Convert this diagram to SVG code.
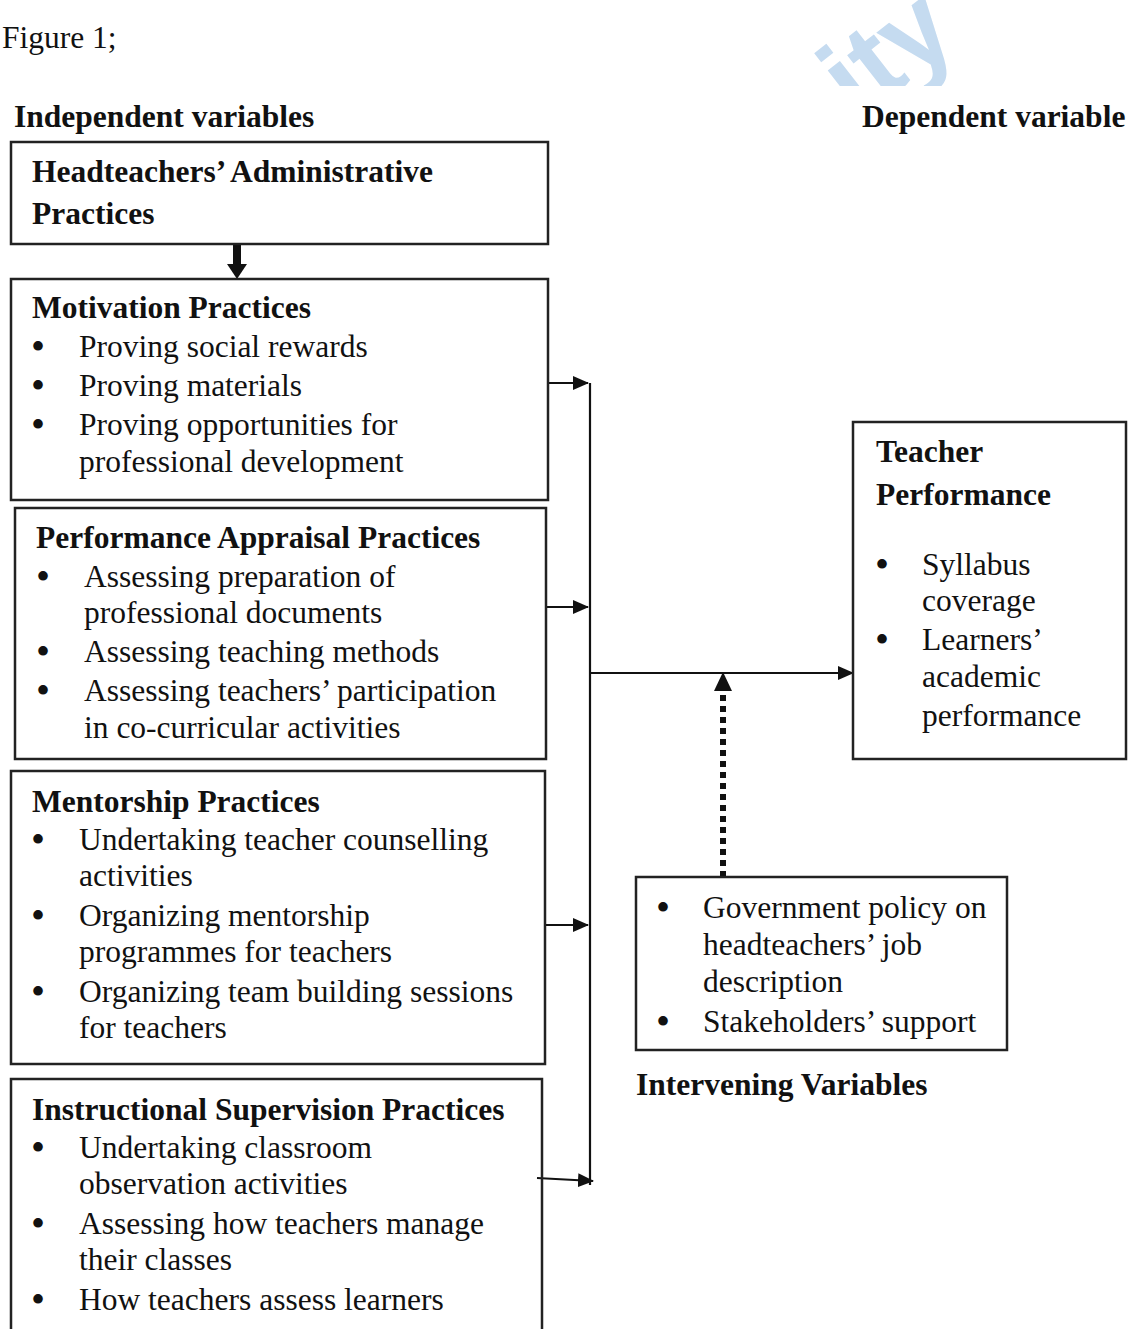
<svg xmlns="http://www.w3.org/2000/svg" width="1133" height="1329" viewBox="0 0 1133 1329">
<style>
  text { font-family: "Liberation Serif", "Times New Roman", serif; font-size: 31.5px; fill: #111; }
  .b { font-weight: bold; }
  .bul { font-size: 40px; }
  .box { fill: none; stroke: #222; stroke-width: 2.5; }
  .ln { fill: none; stroke: #111; stroke-width: 2.2; }
  .wm { font-family: "Liberation Sans", Arial, sans-serif; font-weight: bold; font-size: 112px; fill: #c5dbf0; }
</style>
<defs>
  <marker id="ah" markerUnits="userSpaceOnUse" markerWidth="16" markerHeight="14" refX="15" refY="7" orient="auto">
    <path d="M0,0 L16,7 L0,14 Z" fill="#111"/>
  </marker>
  <clipPath id="wmclip"><rect x="800" y="0" width="240" height="86"/></clipPath>
</defs>
<rect width="1133" height="1329" fill="#fff"/>

<g clip-path="url(#wmclip)">
  <text class="wm" transform="translate(858,122) rotate(-38)">ity</text>
</g>

<text x="2" y="48">Figure 1;</text>
<text class="b" x="14" y="127">Independent variables</text>
<text class="b" x="862" y="127">Dependent variable</text>

<g id="connectors">
  <line x1="237" y1="244" x2="237" y2="266" stroke="#111" stroke-width="8"/>
  <path d="M227,264 L247,264 L237,279 Z" fill="#111"/>
  <line class="ln" x1="590" y1="383" x2="590" y2="1185"/>
  <line class="ln" x1="548" y1="383" x2="588" y2="383" marker-end="url(#ah)"/>
  <line class="ln" x1="546" y1="607" x2="588" y2="607" marker-end="url(#ah)"/>
  <line class="ln" x1="545" y1="925" x2="588" y2="925" marker-end="url(#ah)"/>
  <line class="ln" x1="537" y1="1178" x2="593" y2="1181" marker-end="url(#ah)"/>
  <line class="ln" x1="590" y1="673" x2="853" y2="673" marker-end="url(#ah)"/>
  <line x1="723" y1="877" x2="723" y2="688" stroke="#111" stroke-width="6" stroke-dasharray="6 5"/>
  <path d="M714,691 L732,691 L723,672 Z" fill="#111"/>
</g>

<g id="node-admin">
  <rect class="box" x="11" y="142" width="537" height="102"/>
  <text class="b" x="32" y="182">Headteachers’ Administrative</text>
  <text class="b" x="32" y="224">Practices</text>
</g>

<g id="node-motivation">
  <rect class="box" x="11" y="279" width="537" height="221"/>
  <text class="b" x="32" y="318">Motivation Practices</text>
  <text class="bul" x="31" y="360">•</text><text x="79" y="357">Proving social rewards</text>
  <text class="bul" x="31" y="399">•</text><text x="79" y="396">Proving materials</text>
  <text class="bul" x="31" y="438">•</text><text x="79" y="435">Proving opportunities for</text>
  <text x="79" y="472">professional development</text>
</g>

<g id="node-appraisal">
  <rect class="box" x="15" y="508" width="531" height="251"/>
  <text class="b" x="36" y="548">Performance Appraisal Practices</text>
  <text class="bul" x="36" y="590">•</text><text x="84" y="587">Assessing preparation of</text>
  <text x="84" y="623">professional documents</text>
  <text class="bul" x="36" y="665">•</text><text x="84" y="662">Assessing teaching methods</text>
  <text class="bul" x="36" y="704">•</text><text x="84" y="701">Assessing teachers’ participation</text>
  <text x="84" y="738">in co-curricular activities</text>
</g>

<g id="node-mentorship">
  <rect class="box" x="11" y="771" width="534" height="293"/>
  <text class="b" x="32" y="812">Mentorship Practices</text>
  <text class="bul" x="31" y="853">•</text><text x="79" y="850">Undertaking teacher counselling</text>
  <text x="79" y="886">activities</text>
  <text class="bul" x="31" y="929">•</text><text x="79" y="926">Organizing mentorship</text>
  <text x="79" y="962">programmes for teachers</text>
  <text class="bul" x="31" y="1005">•</text><text x="79" y="1002">Organizing team building sessions</text>
  <text x="79" y="1038">for teachers</text>
</g>

<g id="node-supervision">
  <rect class="box" x="11" y="1079" width="531" height="270"/>
  <text class="b" x="32" y="1120">Instructional Supervision Practices</text>
  <text class="bul" x="31" y="1161">•</text><text x="79" y="1158">Undertaking classroom</text>
  <text x="79" y="1194">observation activities</text>
  <text class="bul" x="31" y="1237">•</text><text x="79" y="1234">Assessing how teachers manage</text>
  <text x="79" y="1270">their classes</text>
  <text class="bul" x="31" y="1313">•</text><text x="79" y="1310">How teachers assess learners</text>
</g>

<g id="node-teacher-performance">
  <rect class="box" x="853" y="422" width="273" height="337"/>
  <text class="b" x="876" y="462">Teacher</text>
  <text class="b" x="876" y="505">Performance</text>
  <text class="bul" x="875" y="578">•</text><text x="922" y="575">Syllabus</text>
  <text x="922" y="611">coverage</text>
  <text class="bul" x="875" y="653">•</text><text x="922" y="650">Learners’</text>
  <text x="922" y="687">academic</text>
  <text x="922" y="726">performance</text>
</g>

<g id="node-intervening">
  <rect class="box" x="636" y="877" width="371" height="173"/>
  <text class="bul" x="656" y="921">•</text><text x="703" y="918">Government policy on</text>
  <text x="703" y="955">headteachers’ job</text>
  <text x="703" y="992">description</text>
  <text class="bul" x="656" y="1035">•</text><text x="703" y="1032">Stakeholders’ support</text>
  <text class="b" x="636" y="1095">Intervening Variables</text>
</g>
</svg>
